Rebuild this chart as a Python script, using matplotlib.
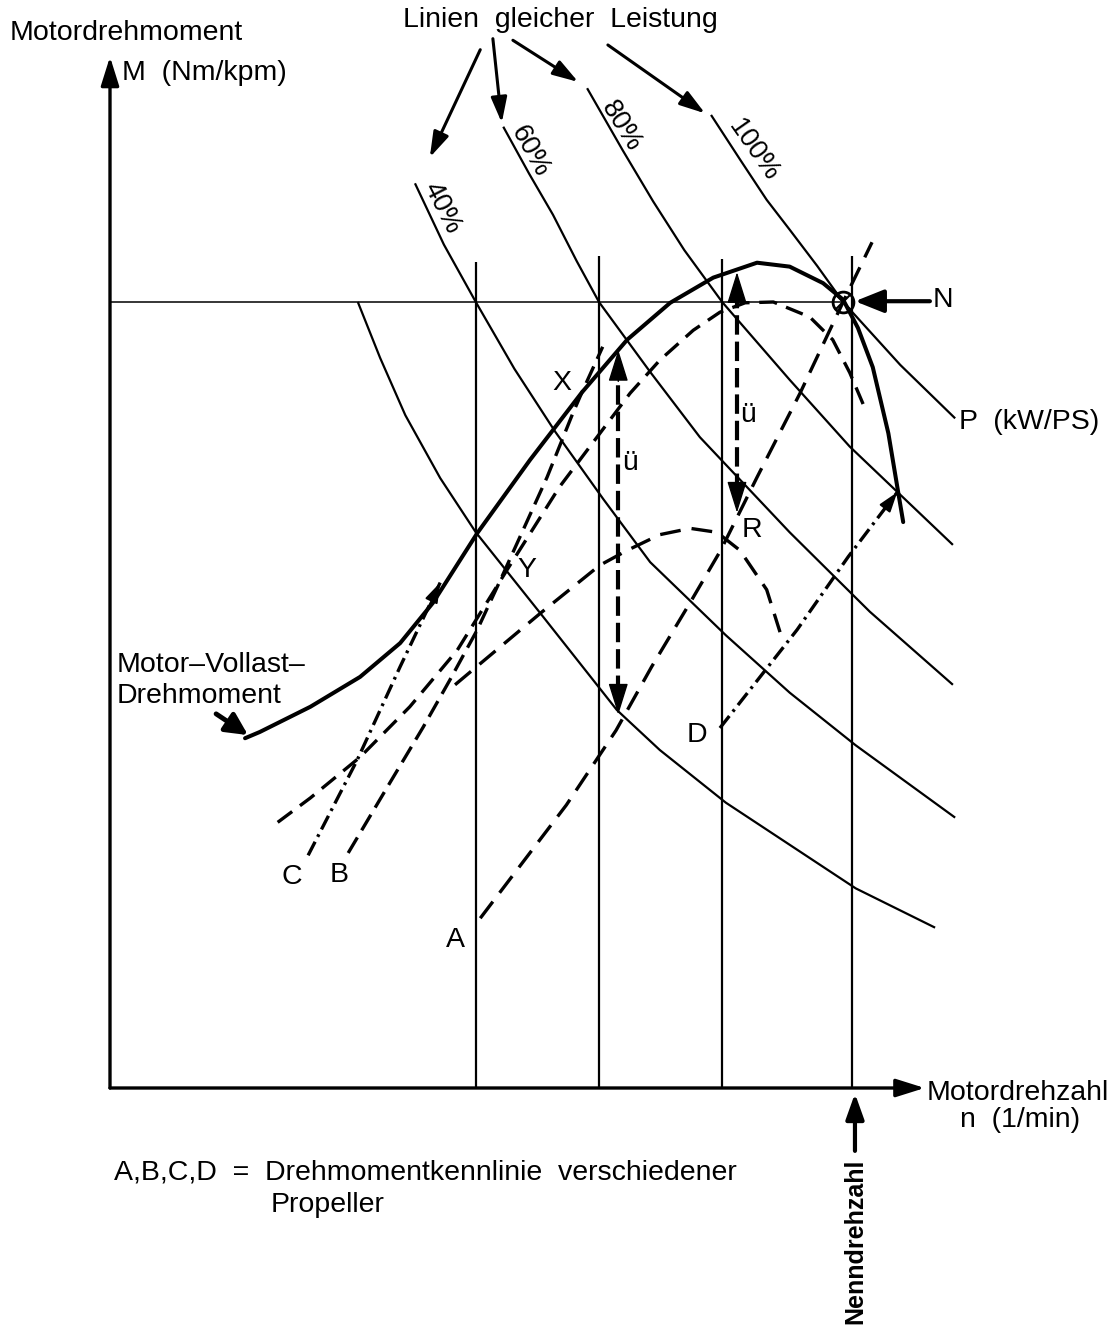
# -*- coding: utf-8 -*-
import numpy as np
import matplotlib
matplotlib.use("Agg")
import matplotlib.pyplot as plt

plt.rcParams['font.family'] = ['Liberation Sans', 'DejaVu Sans']
plt.rcParams['lines.scale_dashes'] = False
plt.rcParams['lines.solid_capstyle'] = 'butt'

# =============================================================================
# Daten (n in % Nenndrehzahl, M in % Nennmoment)
# =============================================================================
# Linien gleicher Leistung
n_p40 = [41.1, 45.0, 49.3, 54.5, 60.0, 66.5, 72.8, 83.0, 91.6, 100.5, 113.9]
m_p40 = [115.1, 107.3, 100.0, 91.5, 83.5, 74.9, 66.9, 57.6, 50.3, 43.6, 34.4]
n_p60 = [53.0, 56.5, 59.7, 62.9, 65.9, 72.8, 79.5, 91.6, 102.4, 113.6]
m_p60 = [122.3, 116.3, 111.1, 105.2, 100.0, 91.1, 82.8, 70.7, 60.6, 51.3]
n_p80 = [64.3, 69.1, 73.2, 77.4, 82.5, 91.6, 99.7, 113.6]
m_p80 = [127.2, 119.3, 112.8, 106.6, 100.0, 90.1, 81.6, 69.1]
n_p100 = [81.0, 85.0, 88.5, 91.6, 95.3, 98.8, 106.5, 113.9]
m_p100 = [123.8, 118.0, 113.0, 109.2, 104.6, 100.0, 92.0, 85.2]
n_p33 = [33.4, 36.4, 39.8, 44.5, 49.3, 58.0, 68.3, 74.1, 83.0, 100.5, 111.2]
m_p33 = [100.0, 92.9, 85.6, 77.6, 70.7, 60.4, 48.1, 43.0, 36.3, 25.4, 20.4]
power_labels = ['40%', '60%', '80%', '100%']

# Motor-Vollast-Drehmoment
n_full = [18.2, 20.2, 27.0, 33.7, 39.1, 43.5, 49.5, 56.6, 63.6, 69.7, 75.5,
          81.3, 87.2, 91.6, 96.1, 98.8, 100.8, 102.8, 104.9, 106.1, 106.9]
m_full = [44.5, 45.3, 48.5, 52.3, 56.6, 61.7, 70.6, 79.9, 88.5, 95.2, 99.9,
          103.1, 105.0, 104.5, 102.4, 100.3, 96.7, 91.7, 83.3, 76.5, 72.0]

# gestrichelte Drehmomentkurven (ueber Getriebe)
n_up = [22.6, 27.0, 33.7, 40.4, 46.8, 53.5, 60.6, 70.1, 74.1, 78.6, 82.2,
        85.6, 89.4, 94.3, 97.4, 99.7, 102.0]
m_up = [33.8, 36.9, 42.1, 48.5, 55.7, 65.9, 76.5, 88.4, 92.6, 96.4, 98.7,
        99.9, 100.0, 98.1, 95.2, 91.0, 85.9]
n_low = [46.5, 58.0, 66.0, 69.7, 74.1, 78.2, 81.8, 84.9, 88.5, 90.3]
m_low = [51.3, 60.4, 66.5, 68.4, 70.4, 71.2, 70.7, 68.4, 63.4, 58.0]

# Propellerkurven
n_A = [49.9, 56.1, 61.5, 68.2, 73.0, 78.4, 82.3, 87.2, 93.0, 98.8, 102.7]
m_A = [21.6, 29.3, 36.0, 45.5, 53.6, 62.1, 68.4, 77.7, 88.4, 100.0, 107.6]
n_B = [32.1, 37.7, 42.2, 45.8, 49.5, 52.6, 58.9, 62.4, 63.6, 66.4]
m_B = [29.9, 38.8, 45.9, 51.9, 58.3, 64.6, 77.7, 85.9, 88.5, 94.3]
n_C = [26.7, 33.3, 39.1, 44.5]
m_C = [29.6, 41.7, 53.6, 64.3]
n_D = [82.2, 92.6, 99.5, 106.1]
m_D = [45.8, 58.3, 67.6, 75.8]

# Drehzahlen der senkrechten Linien, Nennpunkt
n_vert = [49.3, 65.9, 82.5, 100.0]
m_vert_top = [105.1, 105.9, 105.5, 105.9]
n_N, m_N = 98.8, 100.0

# Uebersetzungspfeile (ü)
n_ue = [68.5, 84.5]
m_ue_top = [93.9, 103.8]
m_ue_bot = [47.5, 73.2]

# =============================================================================
# Plot
# =============================================================================
px_x, px_y = 7.42, 7.86  # Pixel je Prozent
fig = plt.figure(figsize=(11.15, 13.39), dpi=100)
ax = fig.add_axes([0, 0, 1, 1])
ax.set_xlim(-110 / px_x, 1005 / px_x)
ax.set_ylim(-251 / px_y, 1088 / px_y)
ax.axis('off')

k = 'black'
thin = 1.6

# Achsen
ax.annotate('', xy=(0, 131.2), xytext=(0, 0),
            arrowprops=dict(arrowstyle='-|>,head_length=0.7,head_width=0.22',
                            lw=2.4, color=k, mutation_scale=25, shrinkA=0, shrinkB=0))
ax.annotate('', xy=(109.8, 0), xytext=(0, 0),
            arrowprops=dict(arrowstyle='-|>,head_length=0.7,head_width=0.22',
                            lw=2.4, color=k, mutation_scale=25, shrinkA=0, shrinkB=0))

# Nennmoment-Linie und senkrechte Linien
ax.plot([0, n_N], [100, 100], color=k, lw=1.1)
for nv, mt in zip(n_vert, m_vert_top):
    ax.plot([nv, nv], [0, mt], color=k, lw=thin)

# Leistungslinien
for nn, mm in [(n_p40, m_p40), (n_p60, m_p60), (n_p80, m_p80),
               (n_p100, m_p100), (n_p33, m_p33)]:
    ax.plot(nn, mm, color=k, lw=thin, solid_joinstyle='round')

fs = 20.5
lab_pos = [(44.8, 112.0, -63), (56.6, 119.1, -61), (68.9, 122.3, -58), (86.7, 119.3, -55)]
for txt, (xn, ym, rot) in zip(power_labels, lab_pos):
    ax.text(xn, ym, txt, rotation=rot, ha='center', va='center', fontsize=fs - 1)

# Vollast-Drehmoment
ax.plot(n_full, m_full, color=k, lw=2.9, solid_capstyle='round', solid_joinstyle='round')

# gestrichelte Kurven
ax.plot(n_up, m_up, color=k, lw=2.4, dashes=(13, 7))
ax.plot(n_low, m_low, color=k, lw=2.4, dashes=(15, 8))
ax.plot(n_A, m_A, color=k, lw=2.4, dashes=(15, 8))
ax.plot(n_B, m_B, color=k, lw=2.4, dashes=(13, 6))
ax.plot(n_C, m_C, color=k, lw=2.4, dashes=(11, 4, 2, 4))
ax.plot(n_D, m_D, color=k, lw=2.4, dashes=(11, 4, 2, 4))
for nn, mm in [(n_C, m_C), (n_D, m_D)]:
    ax.annotate('', xy=(nn[-1], mm[-1]), xytext=(nn[-2] + 0.7 * (nn[-1] - nn[-2]),
                                                 mm[-2] + 0.7 * (mm[-1] - mm[-2])),
                arrowprops=dict(arrowstyle='-|>,head_length=0.6,head_width=0.2',
                                lw=1.5, color=k, mutation_scale=20, shrinkA=0, shrinkB=0))

# ü-Pfeile
for nu, mt, mb in zip(n_ue, m_ue_top, m_ue_bot):
    ax.plot([nu, nu], [mb + 2.5, mt - 2.5], color=k, lw=3.0, dashes=(14, 5))
    for a, b in [(mt, mt - 4), (mb, mb + 4)]:
        ax.annotate('', xy=(nu, a), xytext=(nu, b),
                    arrowprops=dict(arrowstyle='-|>,head_length=0.8,head_width=0.25',
                                    lw=1, color=k, mutation_scale=25, shrinkA=0, shrinkB=0))

# Nennpunkt N
ax.plot(n_N, m_N, marker='o', ms=15, mfc='none', mec=k, mew=2)
ax.plot(n_N, m_N, marker='x', ms=11, mec=k, mew=1.5)
ax.annotate('', xy=(100.4, 100.1), xytext=(110.5, 100.1),
            arrowprops=dict(arrowstyle='-|>,head_length=0.7,head_width=0.28',
                            lw=3, color=k, mutation_scale=25, shrinkA=0, shrinkB=0))

# Pfeil zur Vollastkurve
ax.annotate('', xy=(18.6, 44.9), xytext=(14.3, 47.6),
            arrowprops=dict(arrowstyle='-|>,head_length=0.6,head_width=0.3',
                            lw=3.5, color=k, mutation_scale=22, shrinkA=0, shrinkB=0))

# Pfeile "Linien gleicher Leistung"
for (x0, y0), (x1, y1) in [((49.9, 132.1), (43.1, 118.4)),
                           ((51.6, 133.5), (52.8, 122.8)),
                           ((54.3, 133.3), (63.1, 128.0)),
                           ((67.1, 132.7), (80.2, 124.0))]:
    ax.annotate('', xy=(x1, y1), xytext=(x0, y0),
                arrowprops=dict(arrowstyle='-|>,head_length=0.7,head_width=0.22',
                                lw=2.2, color=k, mutation_scale=22, shrinkA=0, shrinkB=0))

# Nenndrehzahl-Pfeil
ax.annotate('', xy=(100.4, -0.7), xytext=(100.4, -8.0),
            arrowprops=dict(arrowstyle='-|>,head_length=0.7,head_width=0.25',
                            lw=3, color=k, mutation_scale=22, shrinkA=0, shrinkB=0))

# Texte
ax.text(-13.5, 134.2, 'Motordrehmoment', fontsize=fs, ha='left', va='center')
ax.text(1.6, 129.1, 'M  (Nm/kpm)', fontsize=fs, ha='left', va='center')
ax.text(39.5, 135.9, 'Linien  gleicher  Leistung', fontsize=fs, ha='left', va='center')
ax.text(112.3, 100.3, 'N', fontsize=fs, ha='center', va='center')
ax.text(114.4, 84.7, 'P  (kW/PS)', fontsize=fs, ha='left', va='center')
ax.text(0.9, 53.8, 'Motor–Vollast–', fontsize=fs, ha='left', va='center')
ax.text(0.9, 49.9, 'Drehmoment', fontsize=fs, ha='left', va='center')
for txt, xn, ym in [('X', 60.9, 89.7), ('Y', 56.2, 65.9), ('ü', 70.1, 79.5),
                    ('ü', 86.0, 85.6), ('R', 86.5, 71.0), ('D', 79.1, 44.9),
                    ('A', 46.5, 18.8), ('C', 24.5, 26.8), ('B', 30.9, 27.1)]:
    ax.text(xn, ym, txt, fontsize=fs, ha='center', va='center')
ax.text(110.0, -0.6, 'Motordrehzahl', fontsize=fs, ha='left', va='center')
ax.text(122.6, -4.1, 'n  (1/min)', fontsize=fs, ha='center', va='center')
ax.text(0.5, -10.7, 'A,B,C,D  =  Drehmomentkennlinie  verschiedener',
        fontsize=fs, ha='left', va='center')
ax.text(21.6, -14.9, 'Propeller', fontsize=fs, ha='left', va='center')
ax.text(100.4, -9.0, 'Nenndrehzahl', fontsize=18, fontweight='bold',
        rotation=90, ha='center', va='top')

fig.savefig('out.png', dpi=100)
